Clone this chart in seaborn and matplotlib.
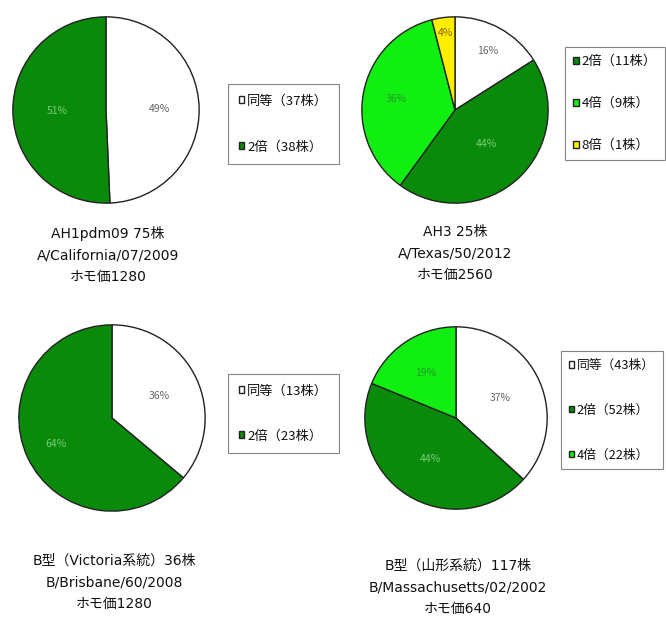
import matplotlib
matplotlib.use("Agg")
import numpy as np
import matplotlib.pyplot as plt
import seaborn as sns

sns.set_theme(style="white")
plt.rcParams['font.family'] = ['Noto Sans CJK JP', 'DejaVu Sans']

# data
cats_1 = ['同等', '2倍']
counts_1 = [37, 38]
caption_1 = 'AH1pdm09 75株\nA/California/07/2009\nホモ価1280'

cats_2 = ['同等', '2倍', '4倍', '8倍']
counts_2 = [4, 11, 9, 1]
caption_2 = 'AH3 25株\nA/Texas/50/2012\nホモ価2560'

cats_3 = ['同等', '2倍']
counts_3 = [13, 23]
caption_3 = 'B型（Victoria系統）36株\nB/Brisbane/60/2008\nホモ価1280'

cats_4 = ['同等', '2倍', '4倍']
counts_4 = [43, 52, 22]
caption_4 = 'B型（山形系統）117株\nB/Massachusetts/02/2002\nホモ価640'

fill = {'同等': '#ffffff', '2倍': '#0a8a0a', '4倍': '#11ee11', '8倍': '#ffee00'}
pct_color = {'同等': '#666666', '2倍': '#77cc77', '4倍': '#229922', '8倍': '#886600'}

W, H = 666, 620
fig = plt.figure(figsize=(W / 100, H / 100), dpi=100)
fig.patch.set_facecolor('white')


def draw(cats, counts, caption, cx, cy, r, leg_xy, leg_skip, cap_xy, dists,
         spacing, pad, legsize=9.5):
    ax = fig.add_axes([(cx - r) / W, 1 - (cy + r) / H, 2 * r / W, 2 * r / H])
    wedges, _ = ax.pie(counts, colors=[fill[c] for c in cats], startangle=90,
                       counterclock=False, radius=1,
                       wedgeprops=dict(edgecolor='#222222', linewidth=1))
    ax.set_xlim(-1.02, 1.02)
    ax.set_ylim(-1.02, 1.02)
    ax.set_aspect('equal')
    ax.axis('off')
    total = sum(counts)
    for w, c, n, d in zip(wedges, cats, counts, dists):
        ang = np.deg2rad((w.theta1 + w.theta2) / 2)
        ax.text(d * np.cos(ang), d * np.sin(ang), f'{round(100 * n / total)}%',
                ha='center', va='center', fontsize=7.5, color=pct_color[c])
    labels = [f'{c}（{n}株）' for c, n in zip(cats, counts)]
    leg = fig.legend(wedges[leg_skip:], labels[leg_skip:], loc='upper left',
                     bbox_to_anchor=(leg_xy[0] / W, 1 - leg_xy[1] / H),
                     frameon=True, fancybox=False, fontsize=legsize,
                     handlelength=0.45, handleheight=0.45, handletextpad=0.2,
                     labelspacing=spacing, borderpad=pad, borderaxespad=0)
    leg.get_frame().set_edgecolor('#666666')
    leg.get_frame().set_linewidth(0.8)
    for t in leg.get_texts():
        t.set_color('#111111')
    fig.text(cap_xy[0] / W, 1 - cap_xy[1] / H, caption, ha='center', va='top',
             fontsize=10, linespacing=1.7, color='#111111',
             family=['DejaVu Sans', 'Noto Sans CJK JP'])


draw(cats_1, counts_1, caption_1, 106, 110, 95, (228, 84), 0, (108, 226),
     [0.57, 0.52], 2.5, 0.8)
draw(cats_2, counts_2, caption_2, 455, 110, 95, (565, 47), 1, (455, 225),
     [0.72, 0.5, 0.64, 0.83], 2.2, 0.6)
draw(cats_3, counts_3, caption_3, 112, 418, 95, (228, 374), 0, (114, 554),
     [0.56, 0.66], 2.43, 0.8)
draw(cats_4, counts_4, caption_4, 456, 418, 93, (561, 351), 0, (458, 559),
     [0.53, 0.53, 0.6], 2.5, 0.6, 9.2)

fig.savefig('out.png', dpi=100, facecolor='white')
